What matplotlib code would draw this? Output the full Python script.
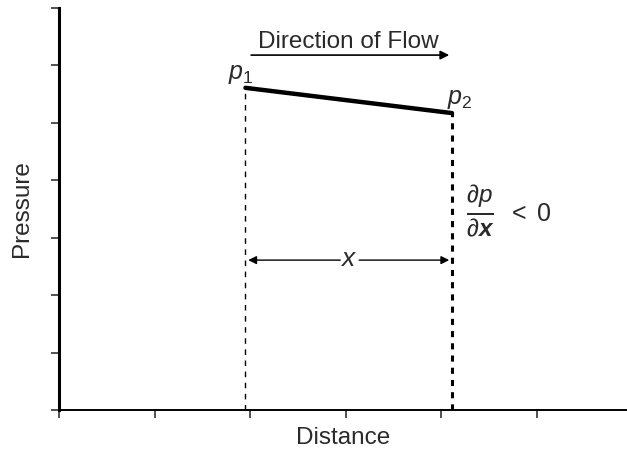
import matplotlib.pyplot as plt

plt.rcParams['font.family'] = ['Liberation Sans', 'DejaVu Sans']
plt.rcParams['mathtext.fontset'] = 'custom'
plt.rcParams['mathtext.rm'] = 'Liberation Sans'
plt.rcParams['mathtext.it'] = 'Liberation Sans:italic'
plt.rcParams['mathtext.bf'] = 'Liberation Sans:bold'
plt.rcParams['mathtext.bfit'] = 'Liberation Sans:bold:italic'

# distance / pressure of the two end points
dist = [1.95, 4.11]
pres = [5.61, 5.17]
point_labels = [r'$p_1$', r'$p_2$']
arrow_y = 2.61
flow_y = 6.18
x_ticks = [0, 1, 2, 3, 4, 5]
y_ticks = [0, 1, 2, 3, 4, 5, 6, 7]

txt = '#2a2a2a'

fig = plt.figure(figsize=(6.27, 4.5), dpi=100)
ax = fig.add_axes([59 / 627, 1 - 410 / 450, 568 / 627, 402 / 450])
ax.set_xlim(0, 5.94)
ax.set_ylim(0, 7)

ax.spines['top'].set_visible(False)
ax.spines['right'].set_visible(False)
ax.spines['left'].set_linewidth(2.2)
ax.spines['bottom'].set_linewidth(1.4)
ax.set_xticks(x_ticks)
ax.set_yticks(y_ticks)
ax.set_xticklabels([])
ax.set_yticklabels([])
ax.tick_params(axis='both', direction='out', length=6, width=1.2, color='#333333')

# pressure line
ax.plot(dist, pres, color='black', lw=3.2, solid_capstyle='round')

# vertical dashed guides
ax.plot([dist[0], dist[0]], [0, pres[0]], color='black', lw=1, ls=(0, (4, 4)))
ax.plot([dist[1], dist[1]], [0, pres[1]], color='black', lw=2.2, ls=(0, (2, 2)))

ax.text(dist[0] - 0.05, pres[0] + 0.03, point_labels[0], fontsize=18, ha='center',
        va='bottom', color=txt)
ax.text(dist[1] + 0.08, pres[1] + 0.03, point_labels[1], fontsize=18, ha='center',
        va='bottom', color=txt)

# direction of flow
ax.annotate('', xy=(dist[1], flow_y), xytext=(dist[0] + 0.03, flow_y),
            arrowprops=dict(arrowstyle='-|>', color='black', lw=1.2, mutation_scale=13))
ax.text((dist[0] + dist[1]) / 2, flow_y + 0.04, 'Direction of Flow', fontsize=17.5,
        ha='center', va='bottom', color=txt)

# x span arrow
xm = (dist[0] + dist[1]) / 2
ax.annotate('', xy=(dist[0], arrow_y), xytext=(xm - 0.06, arrow_y),
            arrowprops=dict(arrowstyle='-|>', color='black', lw=1, mutation_scale=12))
ax.annotate('', xy=(dist[1], arrow_y), xytext=(xm + 0.08, arrow_y),
            arrowprops=dict(arrowstyle='-|>', color='black', lw=1, mutation_scale=12))
ax.text(xm, arrow_y + 0.02, r'$x$', fontsize=19, ha='center', va='center', color=txt)

# gradient
ax.text(dist[1] + 0.15, 3.47, r'$\frac{\partial p}{\partial \mathbfit{x}}$', fontsize=25,
        ha='left', va='center', color=txt)
ax.text(dist[1] + 0.57, 3.42, r'$<$ 0', fontsize=18, ha='left', va='center', color=txt)

ax.set_xlabel('Distance', fontsize=17.5, labelpad=3, color=txt)
ax.set_ylabel('Pressure', fontsize=17.5, labelpad=9, color=txt)

fig.savefig('out.png', dpi=100)
